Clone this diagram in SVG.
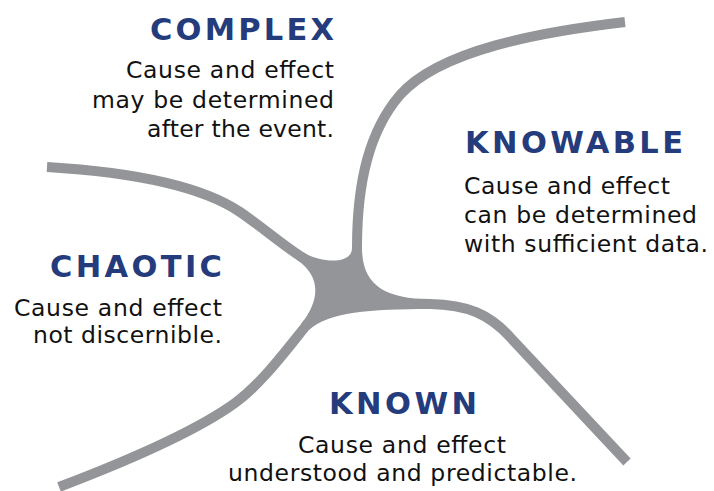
<svg xmlns="http://www.w3.org/2000/svg" width="714" height="491" viewBox="0 0 714 491">
  <style>
    .arm { fill: none; stroke: #939598; stroke-width: 10; stroke-linecap: butt; stroke-linejoin: round; }
    .hub { fill: #939598; stroke: none; }
    .title { font-family: "DejaVu Sans", "Noto Sans", "Liberation Sans", sans-serif; font-weight: 700; font-size: 30.5px; fill: #243b7c; }
    .body { font-family: "DejaVu Sans", "Noto Sans", "Liberation Sans", sans-serif; font-weight: 400; font-size: 23.5px; fill: #111111; }
  </style>
  <rect width="714" height="491" fill="#ffffff"/>

  <!-- four curved boundaries meeting in a central hub -->
  <g id="connectors">
    <path class="arm" d="M 625 22 C 540 32, 440 50, 400 95 C 370 130, 357 180, 357 248 L 357 254"/>
    <path class="arm" d="M 47 167 C 130 172, 200 185, 240 212 C 262 227, 280 243, 300 256 L 305 259"/>
    <path class="arm" d="M 59 487 C 130 460, 195 432, 235 403 C 260 385, 285 352, 305 327 L 308 323"/>
    <path class="arm" d="M 424 304 L 430 304 C 468 304.5, 490 315, 510 337 L 627 462"/>
    <path class="hub" d="M 352 248 C 352 266, 317.7 262.2, 302.9 251.9 L 297.1 260.1 C 321.7 277.2, 319.7 300.5, 301.1 323.9 L 308.9 330.1 C 328 312, 370 309, 430 309 L 430 299 C 385 299, 362 285, 362 248 Z"/>
  </g>

  <g id="complex">
    <text class="title" x="334" y="40" text-anchor="end" textLength="184" lengthAdjust="spacing">COMPLEX</text>
    <text class="body" x="334" y="78" text-anchor="end" textLength="208" lengthAdjust="spacing">Cause and effect</text>
    <text class="body" x="334" y="108" text-anchor="end" textLength="242" lengthAdjust="spacing">may be determined</text>
    <text class="body" x="334" y="137" text-anchor="end" textLength="187" lengthAdjust="spacing">after the event.</text>
  </g>

  <g id="knowable">
    <text class="title" x="465" y="153" textLength="218" lengthAdjust="spacing">KNOWABLE</text>
    <text class="body" x="464" y="194" textLength="206" lengthAdjust="spacing">Cause and effect</text>
    <text class="body" x="464" y="223" textLength="233" lengthAdjust="spacing">can be determined</text>
    <text class="body" x="464" y="252" textLength="244" lengthAdjust="spacing">with sufficient data.</text>
  </g>

  <g id="chaotic">
    <text class="title" x="222" y="277" text-anchor="end" textLength="172" lengthAdjust="spacing">CHAOTIC</text>
    <text class="body" x="222" y="316" text-anchor="end" textLength="208" lengthAdjust="spacing">Cause and effect</text>
    <text class="body" x="222" y="343" text-anchor="end" textLength="189" lengthAdjust="spacing">not discernible.</text>
  </g>

  <g id="known">
    <text class="title" x="403" y="414" text-anchor="middle" textLength="148" lengthAdjust="spacing">KNOWN</text>
    <text class="body" x="402" y="453" text-anchor="middle" textLength="208" lengthAdjust="spacing">Cause and effect</text>
    <text class="body" x="402.5" y="481" text-anchor="middle" textLength="349" lengthAdjust="spacing">understood and predictable.</text>
  </g>
</svg>
